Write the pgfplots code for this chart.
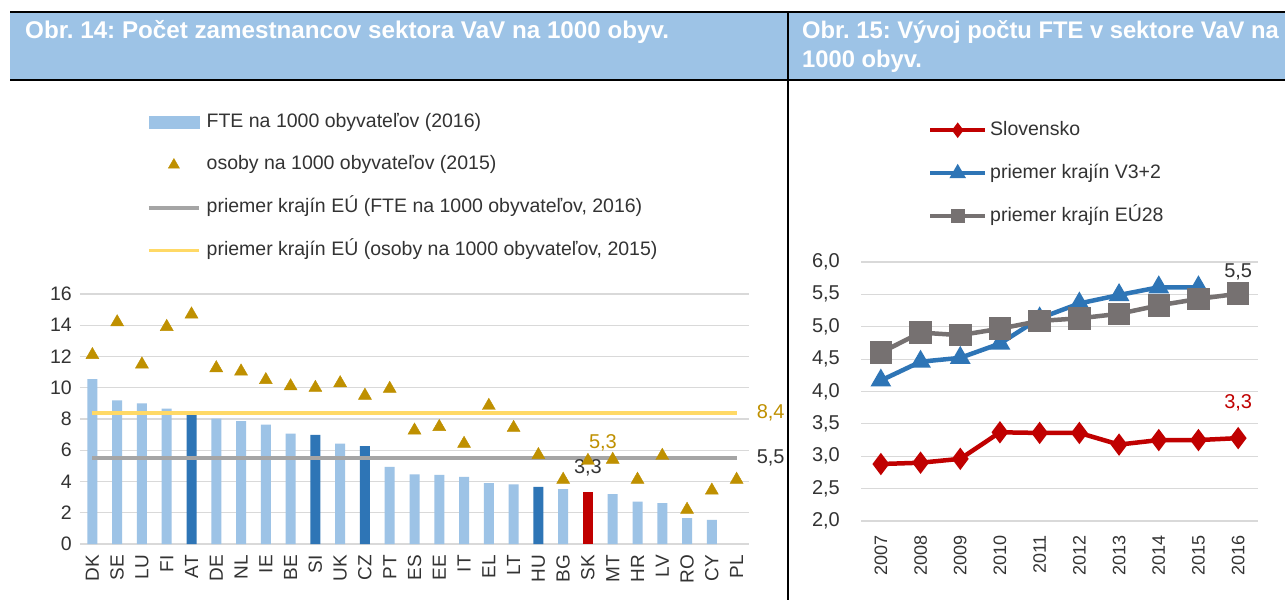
\documentclass[border=0pt]{standalone}
\usepackage{fontspec}
\setmainfont{Liberation Sans}
\usepackage{pgfplots}
\pgfplotsset{compat=1.18}
\frenchspacing

\definecolor{lightbar}{HTML}{9DC3E6}
\definecolor{darkbar}{HTML}{2E75B6}
\definecolor{skred}{HTML}{C00000}
\definecolor{gold}{HTML}{BF9000}
\definecolor{avggray}{HTML}{A5A5A5}
\definecolor{avgyellow}{HTML}{FFD966}
\definecolor{gridgray}{HTML}{D9D9D9}
\definecolor{txt}{HTML}{333333}
\definecolor{eugray}{HTML}{767171}

\pgfplotsset{
  panel/.style={
    scale only axis,
    anchor=south west,
    axis line style={draw=none},
    major tick length=0pt,
    ymajorgrids,
    grid style={gridgray, line width=1.2pt},
    tick label style={text=txt, inner sep=0pt},
    /pgf/number format/assume math mode=true,
    clip=false,
    legend cell align=left,
  },
}

\begin{document}
\begin{tikzpicture}
\useasboundingbox (0pt,0pt) rectangle (1285pt,600pt);
\fill[white] (0pt,0pt) rectangle (1285pt,600pt);

% header bars
\fill[lightbar] (10pt,520pt) rectangle (787pt,588pt);
\fill[lightbar] (789pt,520pt) rectangle (1285pt,588pt);
\draw[black, line width=2pt] (10pt,588pt) -- (1285pt,588pt);
\draw[black, line width=2pt] (10pt,520pt) -- (1285pt,520pt);
\draw[black, line width=2pt] (787.5pt,588pt) -- (787.5pt,0pt);
\node[anchor=base west, text=white, inner sep=0pt, font=\fontsize{24.2}{28}\selectfont\bfseries]
  at (25pt,561pt) {Obr. 14: Počet zamestnancov sektora VaV na 1000 obyv.};
\node[anchor=base west, text=white, inner sep=0pt, xscale=0.99, transform shape,
  font=\fontsize{24}{29}\selectfont\bfseries]
  at (802pt,561pt) {Obr. 15: Vývoj počtu FTE v sektore VaV na};
\node[anchor=base west, text=white, inner sep=0pt, xscale=0.99, transform shape,
  font=\fontsize{24}{29}\selectfont\bfseries]
  at (802pt,532pt) {1000 obyv.};

% ---------------- left chart ----------------
\begin{axis}[panel,
  at={(80pt,56pt)}, width=669pt, height=250pt,
  xmin=-0.5, xmax=26.5, ymin=0, ymax=16,
  ytick={0,2,...,16},
  xtick={0,...,26},
  xticklabels={DK,SE,LU,FI,AT,DE,NL,IE,BE,SI,UK,CZ,PT,ES,EE,IT,EL,LT,HU,BG,SK,MT,HR,LV,RO,CY,PL},
  xticklabel style={rotate=90, anchor=east, font=\fontsize{19}{22}\selectfont},
  xticklabel shift=11pt,
  yticklabel style={anchor=east, font=\fontsize{19.5}{22}\selectfont},
  yticklabel shift=8pt,
  legend style={at={(0.1001,1.728)}, anchor=north west, draw=none, fill=none,
    inner sep=0pt, row sep=22.8pt, column sep=6pt, text=txt,
    font=\fontsize{19.5}{22}\selectfont,
    nodes={inner sep=0pt, text height=15pt, text depth=5pt}},
]
\addlegendimage{legend image code/.code={\fill[lightbar] (0pt,-6pt) rectangle (50pt,6pt);}}
\addlegendentry{FTE na 1000 obyvateľov (2016)}
\addlegendimage{legend image code/.code={\path plot[mark=triangle*, mark size=6.5pt, mark options={draw=gold, fill=gold}] coordinates {(25pt,0pt)};}}
\addlegendentry{osoby na 1000 obyvateľov (2015)}
\addlegendimage{legend image code/.code={\draw[avggray, line width=3.5pt] (0pt,0pt) -- (50pt,0pt);}}
\addlegendentry{priemer krajín EÚ (FTE na 1000 obyvateľov, 2016)}
\addlegendimage{legend image code/.code={\draw[avgyellow, line width=3.5pt] (0pt,0pt) -- (50pt,0pt);}}
\addlegendentry{priemer krajín EÚ (osoby na 1000 obyvateľov, 2015)}

% FTE bars
\addplot[ybar, bar width=10pt, bar shift=0pt, fill=lightbar, draw=none, forget plot] coordinates {
 (0,10.56)(1,9.2)(2,9.0)(3,8.66)(5,8.02)(6,7.87)(7,7.64)(8,7.06)(10,6.42)
 (12,4.93)(13,4.46)(14,4.42)(15,4.29)(16,3.9)(17,3.82)(19,3.52)(21,3.2)
 (22,2.71)(23,2.62)(24,1.66)(25,1.54)};
\addplot[ybar, bar width=10pt, bar shift=0pt, fill=darkbar, draw=none, forget plot] coordinates {
 (4,8.28)(9,6.98)(11,6.27)(18,3.65)};
\addplot[ybar, bar width=10pt, bar shift=0pt, fill=skred, draw=none, forget plot] coordinates {
 (20,3.33)};

% EU averages
\addplot[avggray, line width=3.5pt, forget plot] coordinates {(0,5.5)(26,5.5)};
\addplot[avgyellow, line width=3.5pt, forget plot] coordinates {(0,8.4)(26,8.4)};

% persons per 1000
\addplot[only marks, mark=triangle*, mark size=7.5pt, mark options={draw=gold, fill=gold}, forget plot] coordinates {
 (0,12.1)(1,14.2)(2,11.5)(3,13.9)(4,14.7)(5,11.26)(6,11.05)(7,10.5)(8,10.1)
 (9,10.0)(10,10.3)(11,9.5)(12,9.94)(13,7.27)(14,7.5)(15,6.42)(16,8.85)
 (17,7.44)(18,5.7)(19,4.12)(20,5.33)(21,5.4)(22,4.12)(23,5.65)(24,2.2)
 (25,3.43)(26,4.12)};

\node[text=gold, anchor=west, inner sep=0pt, font=\fontsize{20}{22}\selectfont] at (axis cs:26,8.4) [xshift=20pt] {8,4};
\node[text=txt, anchor=west, inner sep=0pt, font=\fontsize{20}{22}\selectfont] at (axis cs:26,5.5) [xshift=20pt] {5,5};
\node[text=gold, inner sep=0pt, font=\fontsize{20}{22}\selectfont] at (axis cs:20,5.33) [xshift=15pt, yshift=18pt] {5,3};
\node[text=txt, inner sep=0pt, font=\fontsize{20}{22}\selectfont] at (axis cs:20,3.33) [yshift=24pt] {3,3};
\end{axis}

% ---------------- right chart ----------------
\begin{axis}[panel,
  at={(861pt,79pt)}, width=397pt, height=259pt,
  xmin=-0.5, xmax=9.5, ymin=2, ymax=6,
  xtick={0,...,9},
  xticklabels={2007,2008,2009,2010,2011,2012,2013,2014,2015,2016},
  ytick={2,2.5,...,6},
  yticklabel style={anchor=east, font=\fontsize{20}{22}\selectfont,
    /pgf/number format/.cd, fixed, fixed zerofill, precision=1, use comma},
  yticklabel shift=21pt,
  xticklabel style={rotate=90, anchor=east, font=\fontsize{18}{20}\selectfont},
  xticklabel shift=14pt,
  legend image code/.code={\draw[mark repeat=2, mark phase=2, #1] plot coordinates {(0pt,0pt)(27.5pt,0pt)(55pt,0pt)};},
  legend style={at={(0.1688,1.548)}, anchor=north west, draw=none, fill=none,
    inner sep=0pt, row sep=23pt, column sep=3pt, text=txt,
    font=\fontsize{19.5}{22}\selectfont,
    nodes={inner sep=0pt, text height=15pt, text depth=5pt}},
]
\addlegendimage{skred, line width=4pt, mark=diamond*, mark size=4.5pt, mark options={draw=none, fill=skred}}
\addlegendentry{Slovensko}
\addlegendimage{darkbar, line width=4pt, mark=triangle*, mark size=5.5pt, mark options={draw=none, fill=darkbar}}
\addlegendentry{priemer krajín V3+2}
\addlegendimage{eugray, line width=4pt, mark=square*, mark size=5pt, mark options={draw=none, fill=eugray}}
\addlegendentry{priemer krajín EÚ28}

\addplot[skred, line width=4.5pt, mark=diamond*, mark size=7.5pt, mark options={draw=none, fill=skred}, forget plot] coordinates {
 (0,2.88)(1,2.90)(2,2.96)(3,3.37)(4,3.36)(5,3.36)
 (6,3.18)(7,3.25)(8,3.25)(9,3.28)};
\addplot[darkbar, line width=4.5pt, mark=triangle*, mark size=7.5pt, mark options={draw=none, fill=darkbar}, forget plot] coordinates {
 (0,4.17)(1,4.46)(2,4.52)(3,4.74)(4,5.13)(5,5.36)
 (6,5.49)(7,5.61)(8,5.61)};
\addplot[eugray, line width=4.5pt, mark=square*, mark size=9pt, mark options={draw=none, fill=eugray}, forget plot] coordinates {
 (0,4.60)(1,4.91)(2,4.87)(3,4.97)(4,5.09)(5,5.13)
 (6,5.20)(7,5.33)(8,5.43)(9,5.51)};

\node[text=txt, inner sep=0pt, font=\fontsize{20}{22}\selectfont] at (axis cs:9,5.51) [yshift=22pt] {5,5};
\node[text=skred, inner sep=0pt, font=\fontsize{20}{22}\selectfont] at (axis cs:9,3.28) [yshift=35pt] {3,3};
\end{axis}
\end{tikzpicture}
\end{document}
